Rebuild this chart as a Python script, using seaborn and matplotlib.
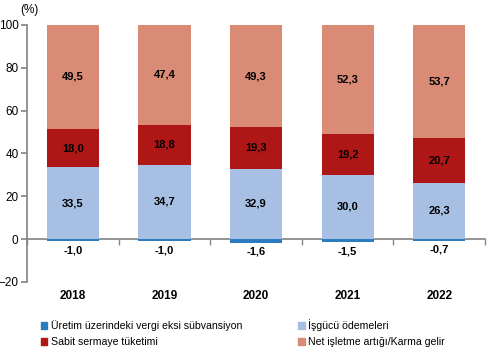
import pandas as pd
import seaborn as sns
import matplotlib.pyplot as plt
from matplotlib.patches import Patch

# veriler
years = ['2018', '2019', '2020', '2021', '2022']
vergi = [-1.0, -1.0, -1.6, -1.5, -0.7]
isgucu = [33.5, 34.7, 32.9, 30.0, 26.3]
sabit = [18.0, 18.8, 19.3, 19.2, 20.7]
net = [49.5, 47.4, 49.3, 52.3, 53.7]

names = ['Üretim üzerindeki vergi eksi sübvansiyon', 'İşgücü ödemeleri',
         'Sabit sermaye tüketimi', 'Net işletme artığı/Karma gelir']
colors = ['#2B7BC0', '#A6BFE3', '#AF1616', '#D98B76']

df = pd.DataFrame({'yil': years, 'vergi': vergi, 'isgucu': isgucu,
                   'sabit': sabit, 'net': net})
df['alt_sabit'] = df['isgucu']
df['alt_net'] = df['isgucu'] + df['sabit']

sns.set_theme(style='white')
plt.rcParams['font.family'] = ['Liberation Sans', 'DejaVu Sans']
plt.rcParams['text.color'] = 'black'
plt.rcParams['xtick.labelcolor'] = 'black'
plt.rcParams['ytick.labelcolor'] = 'black'

fig = plt.figure(figsize=(4.9, 3.61), dpi=100)
ax = fig.add_axes([0.055, 0.219, 0.935, 0.712])

w = 0.57
kw = dict(width=w, ax=ax, saturation=1, linewidth=0, edgecolor='none', zorder=3)
sns.barplot(data=df, x='yil', y='vergi', color=colors[0], **kw)
sns.barplot(data=df, x='yil', y='isgucu', color=colors[1], **kw)
sns.barplot(data=df, x='yil', y='sabit', bottom=df['alt_sabit'], color=colors[2], **kw)
sns.barplot(data=df, x='yil', y='net', bottom=df['alt_net'], color=colors[3], **kw)

def fmt(vals):
    return [f'{v:.1f}'.replace('.', ',') for v in vals]

conts = ax.containers
lab = dict(fontsize=8, fontweight='bold', color='black')
ax.bar_label(conts[0], labels=fmt(vergi), label_type='edge', padding=3, **lab)
ax.bar_label(conts[1], labels=fmt(isgucu), label_type='center', **lab)
ax.bar_label(conts[2], labels=fmt(sabit), label_type='center', **lab)
ax.bar_label(conts[3], labels=fmt(net), label_type='center', **lab)

ax.set_ylim(-20, 100)
ax.set_xlim(-0.5, 4.5)
ax.set_yticks(range(-20, 101, 20))
ax.set_xlabel('')
ax.set_ylabel('')

gray = '#868686'
for s in ['top', 'right']:
    ax.spines[s].set_visible(False)
ax.spines['left'].set_color(gray)
ax.spines['bottom'].set_color(gray)
ax.spines['bottom'].set_position(('data', 0))
ax.spines['bottom'].set_zorder(2)

ax.tick_params(axis='y', left=True, length=4, color=gray, direction='out', labelsize=8.5, pad=2)
ax.set_xticks([i + 0.5 for i in range(-1, 5)], minor=True)
ax.tick_params(axis='x', which='minor', bottom=True, length=4, color=gray, direction='out')
ax.tick_params(axis='x', which='major', bottom=False, length=0, labelsize=8.5, pad=37)
for t in ax.get_xticklabels():
    t.set_fontweight('bold')

ax.text(-0.015, 1.035, '(%)', transform=ax.transAxes, fontsize=8.5, ha='left', va='bottom')

handles = [Patch(color=colors[0]), Patch(color=colors[2]),
           Patch(color=colors[1]), Patch(color=colors[3])]
labels = [names[0], names[2], names[1], names[3]]
fig.legend(handles, labels, ncol=2, loc='upper left', bbox_to_anchor=(0.075, 0.127),
           frameon=False, fontsize=7.6, handlelength=0.6, handleheight=0.6,
           handletextpad=0.35, columnspacing=5.3, labelspacing=0.55, borderaxespad=0)

fig.savefig('out.png', dpi=100)
